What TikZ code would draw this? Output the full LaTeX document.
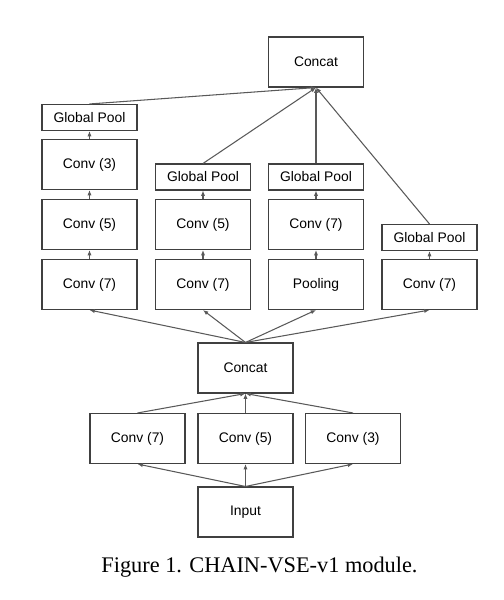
\documentclass[tikz,border=0pt]{standalone}
\usepackage{fontspec}
\setmainfont{Liberation Sans}
\newfontfamily\capfont{Liberation Serif}
\usepackage{tikz}
\usetikzlibrary{positioning,arrows.meta}
\definecolor{boxgray}{rgb}{0.25, 0.25, 0.25}
\definecolor{linegray}{rgb}{0.35, 0.35, 0.35}

\tikzset{
  blk/.style={rectangle, draw=boxgray, line width=0.6pt, minimum width=1.9cm, minimum height=1cm, inner sep=1pt, font=\fontsize{7.9}{9}\selectfont},
  gpool/.style={blk, minimum height=0.52cm}
}

\begin{document}
\begin{tikzpicture}[-{Latex[length=3pt,width=2.4pt]}, auto, on grid, line width=0.6pt, draw=linegray]
	\useasboundingbox (-4.91,-1.76) rectangle (5.17,10.24);
	% input stage
	\node [blk] (In) at (0,0) {Input};
	\node [blk] (B5) [above=1.47cm of In] {Conv (5)};
	\node [blk] (B7) [left=2.16cm of B5] {Conv (7)};
	\node [blk] (B3) [right=2.15cm of B5] {Conv (3)};
	\node [blk] (CatM) [above=1.41cm of B5] {Concat};
	% four branches
	\node [blk] (A1) [above left=1.67cm and 3.12cm of CatM] {Conv (7)};
	\node [blk] (A2) [above=1.2cm of A1] {Conv (5)};
	\node [blk] (A3) [above=1.2cm of A2] {Conv (3)};
	\node [gpool] (A4) [above=0.94cm of A3] {Global Pool};
	\node [blk] (B1) [right=2.27cm of A1] {Conv (7)};
	\node [blk] (B2) [above=1.2cm of B1] {Conv (5)};
	\node [gpool] (B4) [above=0.95cm of B2] {Global Pool};
	\node [blk] (C1) [right=2.26cm of B1] {Pooling};
	\node [blk] (C2) [above=1.2cm of C1] {Conv (7)};
	\node [gpool] (C4) [above=0.95cm of C2] {Global Pool};
	\node [blk] (D1) [right=2.27cm of C1] {Conv (7)};
	\node [gpool] (D4) [above=0.94cm of D1] {Global Pool};
	\node [blk] (CatT) [above=2.3cm of C4] {Concat};
	\node [font=\capfont\fontsize{12.7}{14}\selectfont, inner sep=0pt] (Cap) [below=1.1cm of In, xshift=0.28cm] {Figure 1. CHAIN-VSE-v1 module.};
	% connections
	\path (In.north) edge (B7.south);
	\path (In.north) edge (B5.south);
	\path (In.north) edge (B3.south);
	\path (B7.north) edge (CatM.south);
	\path (B5.north) edge (CatM.south);
	\path (B3.north) edge (CatM.south);
	\path (CatM.north) edge (A1.south);
	\path (CatM.north) edge (B1.south);
	\path (CatM.north) edge (C1.south);
	\path (CatM.north) edge (D1.south);
	\path (A1) edge (A2);
	\path (A2) edge (A3);
	\path (A3) edge (A4);
	\path (B1) edge (B2);
	\path (B2) edge (B4);
	\path (C1) edge (C2);
	\path (C2) edge (C4);
	\path (D1) edge (D4);
	\path (A4.north) edge (CatT.south);
	\path (B4.north) edge (CatT.south);
	\path (C4.north) edge (CatT.south);
	\path (D4.north) edge (CatT.south);
\end{tikzpicture}
\end{document}
